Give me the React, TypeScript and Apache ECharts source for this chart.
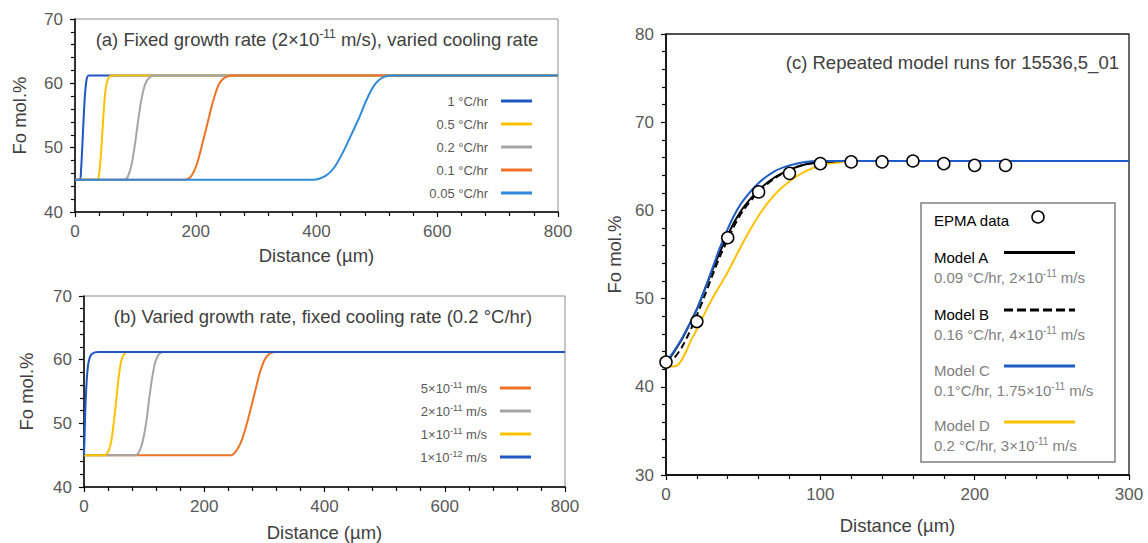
import React, { useEffect, useRef } from 'react';
import * as echarts from 'echarts';

const FONT = '"Liberation Sans", Arial, Helvetica, sans-serif';

// ---------- Panel (a): fixed growth rate, varied cooling rate ----------
const coolingRates = ['1 °C/hr', '0.5 °C/hr', '0.2 °C/hr', '0.1 °C/hr', '0.05 °C/hr'];
const coolingColors = ['#1f56c4', '#ffc000', '#a5a5a5', '#ee7326', '#2e8bdc'];
const a_1: number[][] = [[0, 45], [8, 45], [10, 46.5], [12, 50], [14, 54], [16, 57.5], [18, 59.8], [20, 60.9], [23, 61.2], [800, 61.2]];
const a_05: number[][] = [[0, 45], [37, 45], [40, 46], [43, 49], [46, 53.5], [49, 57.5], [52, 59.8], [56, 60.9], [62, 61.2], [800, 61.2]];
const a_02: number[][] = [[0, 45], [82, 45], [88, 45.6], [94, 47.5], [100, 51], [105, 54.5], [110, 57.5], [116, 59.8], [124, 61], [134, 61.2], [800, 61.2]];
const a_01: number[][] = [[0, 45], [182, 45], [192, 45.5], [202, 47.5], [212, 51], [220, 54], [228, 57], [238, 59.8], [248, 60.9], [262, 61.2], [800, 61.2]];
const a_005: number[][] = [[0, 45], [395, 45], [415, 45.6], [430, 47], [445, 49.5], [460, 52.5], [470, 54.5], [480, 56.8], [490, 58.8], [500, 60.2], [512, 61], [530, 61.2], [800, 61.2]];
const coolingData = [a_1, a_05, a_02, a_01, a_005];

// ---------- Panel (b): varied growth rate, fixed cooling rate ----------
const growthMantissa = ['5×10', '2×10', '1×10', '1×10'];
const growthExponent = ['-11', '-11', '-11', '-12'];
const growthColors = ['#ee7326', '#a5a5a5', '#ffc000', '#1f56c4'];
const b_5e11: number[][] = [[0, 45], [245, 45], [252, 45.5], [260, 46.8], [268, 49], [276, 51.8], [284, 54.8], [292, 57.8], [300, 59.9], [308, 60.9], [318, 61.2], [800, 61.2]];
const b_2e11: number[][] = [[0, 45], [86, 45], [92, 45.6], [98, 47.3], [104, 50.5], [109, 54.3], [114, 57.5], [119, 59.8], [125, 60.9], [132, 61.2], [800, 61.2]];
const b_1e11: number[][] = [[0, 45], [34, 45], [40, 45.5], [45, 47], [50, 50.5], [54, 54], [58, 57.5], [62, 59.8], [67, 60.9], [72, 61.2], [800, 61.2]];
const b_1e12: number[][] = [[0, 45], [1, 48], [2, 51.5], [3.5, 55], [5.5, 58], [8, 59.8], [12, 60.8], [18, 61.15], [24, 61.2], [800, 61.2]];
const growthData = [b_5e11, b_2e11, b_1e11, b_1e12];
const growthNames = growthMantissa.map((m, i) => m + '^' + growthExponent[i] + ' m/s');

// ---------- Panel (c): repeated model runs for 15536,5_01 ----------
const epmaData: number[][] = [[0, 42.8], [20, 47.4], [40, 56.9], [60, 62.1], [80, 64.2], [100, 65.3], [120, 65.5], [140, 65.5], [160, 65.6], [180, 65.3], [200, 65.1], [220, 65.1]];
const modelA: number[][] = [[0, 42.6], [5, 43.9], [10, 45.3], [15, 47], [20, 48.8], [25, 51], [30, 53.2], [35, 55.3], [40, 57.2], [45, 58.9], [50, 60.3], [60, 62.3], [70, 63.7], [80, 64.6], [90, 65.2], [100, 65.45], [115, 65.6], [300, 65.6]];
const modelB: number[][] = [[0, 42.6], [5, 43.2], [10, 44.4], [15, 46.1], [20, 48.1], [25, 50.3], [30, 52.6], [35, 54.8], [40, 56.7], [45, 58.5], [50, 60], [60, 62.1], [70, 63.6], [80, 64.6], [90, 65.2], [100, 65.45], [115, 65.6], [300, 65.6]];
const modelC: number[][] = [[0, 42.8], [5, 44], [10, 45.4], [15, 47], [20, 48.8], [25, 51], [30, 53.4], [35, 55.8], [40, 57.9], [45, 59.7], [50, 61.1], [60, 63.1], [70, 64.4], [80, 65.1], [90, 65.5], [100, 65.6], [300, 65.6]];
const modelD: number[][] = [[0, 42.3], [4, 42.3], [7, 42.4], [10, 43], [13, 44], [16, 45.2], [20, 46.5], [25, 48.3], [30, 50], [35, 51.5], [40, 53], [50, 56.4], [60, 59.4], [70, 61.7], [80, 63.3], [90, 64.4], [100, 65.1], [110, 65.4], [125, 65.6], [300, 65.6]];
const modelNames = ['Model A', 'Model B', 'Model C', 'Model D'];
const modelRates = ['0.09 °C/hr, 2×10', '0.16 °C/hr, 4×10', '0.1°C/hr, 1.75×10', '0.2 °C/hr, 3×10'];
const modelExps = ['-11', '-11', '-11', '-11'];

const TICK_COLOR = '#595959';
const NAME_COLOR = '#404040';

function mkX(gridIndex: number, min: number, max: number, interval: number, nameGap: number) {
  return {
    type: 'value', gridIndex, min, max, interval,
    name: 'Distance (µm)', nameLocation: 'middle', nameGap,
    nameTextStyle: { fontSize: 18.5, color: NAME_COLOR, fontFamily: FONT },
    axisLine: { show: true, onZero: false, lineStyle: { color: '#000', width: 1.5 } },
    axisTick: { show: true, length: 5, inside: false, lineStyle: { color: '#000', width: 1.2 } },
    minorTick: { show: true, splitNumber: 5, length: 4, lineStyle: { color: '#000', width: 1.2 } },
    axisLabel: { fontSize: 17, color: TICK_COLOR, margin: 11, fontFamily: FONT },
    splitLine: { show: false },
    minorSplitLine: { show: false },
  };
}

function mkY(gridIndex: number, min: number, max: number, interval: number, nameGap: number) {
  return {
    type: 'value', gridIndex, min, max, interval,
    name: 'Fo mol.%', nameLocation: 'middle', nameGap,
    nameTextStyle: { fontSize: 18.5, color: NAME_COLOR, fontFamily: FONT },
    axisLine: { show: true, onZero: false, lineStyle: { color: '#000', width: 1.5 } },
    axisTick: { show: true, length: 5, inside: false, lineStyle: { color: '#000', width: 1.2 } },
    minorTick: { show: true, splitNumber: 5, length: 4, lineStyle: { color: '#000', width: 1.2 } },
    axisLabel: { fontSize: 17, color: TICK_COLOR, margin: 12, fontFamily: FONT },
    splitLine: { show: false },
    minorSplitLine: { show: false },
  };
}

function lineSeries(name: string, data: number[][], color: string, idx: number, z: number, extra: any = {}) {
  return {
    type: 'line', name, data, xAxisIndex: idx, yAxisIndex: idx,
    symbol: 'none', showSymbol: false, smooth: 0.25, z,
    lineStyle: { color, width: 2, ...(extra.lineStyle || {}) },
    itemStyle: { color },
    emphasis: { disabled: true },
  };
}

function supRich(size: number, color: string) {
  return { s: { fontSize: size, lineHeight: size, verticalAlign: 'top', fill: color, color, fontFamily: FONT } };
}

export default function App() {
  const ref = useRef<HTMLDivElement>(null);

  useEffect(() => {
    if (!ref.current) return;
    const chart = echarts.init(ref.current, undefined, { renderer: 'svg' });

    const series: any[] = [];
    coolingRates.forEach((n, i) => series.push(lineSeries(n, coolingData[i], coolingColors[i], 0, 2 + i)));
    growthNames.forEach((n, i) => series.push(lineSeries(n, growthData[i], growthColors[i], 1, 2 + i)));
    series.push(lineSeries(modelNames[3], modelD, '#ffc000', 2, 2));
    series.push(lineSeries(modelNames[0], modelA, '#000000', 2, 3));
    series.push(lineSeries(modelNames[1], modelB, '#000000', 2, 4, { lineStyle: { type: [7, 4] } }));
    series.push(lineSeries(modelNames[2], modelC, '#1d5cc6', 2, 5));
    series.push({
      type: 'scatter', name: 'EPMA data', data: epmaData, xAxisIndex: 2, yAxisIndex: 2,
      symbol: 'circle', symbolSize: 12, z: 10,
      itemStyle: { color: '#ffffff', borderColor: '#000000', borderWidth: 1.5, opacity: 1 },
      emphasis: { disabled: true },
    });

    const legendBase = {
      orient: 'vertical', align: 'right', padding: 0, itemGap: 7,
      itemWidth: 31, itemHeight: 3, icon: 'rect', selectedMode: false,
      textStyle: { fontSize: 13, color: TICK_COLOR, lineHeight: 16, padding: [0, 8, 0, 0], fontFamily: FONT, rich: supRich(9, TICK_COLOR) },
    };

    const cLegendX = 934;
    const cLegendRows = [257, 314, 370, 425.5];
    const cLineY = [252.5, 310, 366, 422];
    const cLineColors = ['#000000', '#000000', '#1d5cc6', '#ffc000'];
    const cNameColors = ['#000000', '#000000', '#7f7f7f', '#7f7f7f'];
    const cGraphics: any[] = [
      { type: 'rect', shape: { x: 921, y: 203, width: 194, height: 259 }, style: { fill: '#ffffff', stroke: '#808080', lineWidth: 1.5 }, z: 100 },
      { type: 'text', x: cLegendX, y: 220, z: 101, style: { text: 'EPMA data', fontSize: 15, fontFamily: FONT, fill: '#000000', align: 'left', verticalAlign: 'middle' } },
      { type: 'circle', shape: { cx: 1038, cy: 217, r: 6 }, style: { fill: '#ffffff', stroke: '#000000', lineWidth: 1.5 }, z: 101 },
    ];
    modelNames.forEach((n, i) => {
      cGraphics.push({ type: 'text', x: cLegendX, y: cLegendRows[i], z: 101, style: { text: n, fontSize: 15, fontFamily: FONT, fill: cNameColors[i], align: 'left', verticalAlign: 'middle' } });
      cGraphics.push({
        type: 'text', x: cLegendX, y: cLegendRows[i] + 20, z: 101,
        style: { text: modelRates[i] + '{s|' + modelExps[i] + '} m/s', fontSize: 15, lineHeight: 18, fontFamily: FONT, fill: '#7f7f7f', align: 'left', verticalAlign: 'middle', rich: supRich(10, '#7f7f7f') },
      });
      cGraphics.push({
        type: 'line', z: 101, shape: { x1: 1004, y1: cLineY[i], x2: 1075, y2: cLineY[i] },
        style: { stroke: cLineColors[i], lineWidth: 3, lineDash: i === 1 ? [9, 4] : null },
      });
    });

    const option: any = {
      animation: false,
      textStyle: { fontFamily: FONT },
      grid: [
        { left: 75, top: 19, width: 483, height: 193, show: true, borderColor: '#8c8c8c', borderWidth: 1, backgroundColor: 'transparent' },
        { left: 84, top: 296, width: 481, height: 194, show: true, borderColor: '#8c8c8c', borderWidth: 1, backgroundColor: 'transparent' },
        { left: 666, top: 34, width: 463, height: 441, show: true, borderColor: '#1a1a1a', borderWidth: 1.3, backgroundColor: 'transparent' },
      ],
      xAxis: [mkX(0, 0, 800, 200, 34), mkX(1, 0, 800, 200, 36), mkX(2, 0, 300, 100, 41)],
      yAxis: [mkY(0, 40, 70, 10, 46), mkY(1, 40, 70, 10, 48), mkY(2, 30, 80, 10, 42)],
      legend: [
        { ...legendBase, right: 616, top: 93, data: coolingRates },
        {
          ...legendBase, right: 617, top: 380, data: growthNames,
          formatter: (name: string) => {
            const i = growthNames.indexOf(name);
            return growthMantissa[i] + '{s|' + growthExponent[i] + '} m/s';
          },
        },
      ],
      graphic: [
        {
          type: 'text', x: 317, y: 39, z: 50,
          style: { text: '(a) Fixed growth rate (2×10{s|-11} m/s), varied cooling rate', fontSize: 18.5, lineHeight: 22, fontFamily: FONT, fill: NAME_COLOR, align: 'center', verticalAlign: 'middle', rich: supRich(12, NAME_COLOR) },
        },
        {
          type: 'text', x: 323, y: 316, z: 50,
          style: { text: '(b) Varied growth rate, fixed cooling rate (0.2 °C/hr)', fontSize: 18.5, fontFamily: FONT, fill: NAME_COLOR, align: 'center', verticalAlign: 'middle' },
        },
        {
          type: 'text', x: 1119, y: 62, z: 50,
          style: { text: '(c) Repeated model runs for 15536,5_01', fontSize: 18.5, fontFamily: FONT, fill: NAME_COLOR, align: 'right', verticalAlign: 'middle' },
        },
        ...cGraphics,
      ],
      series,
    };

    chart.setOption(option);
    return () => chart.dispose();
  }, []);

  return (
    <div
      ref={ref}
      style={{ position: 'fixed', left: 0, top: 0, width: 1148, height: 543, background: '#ffffff' }}
    />
  );
}
